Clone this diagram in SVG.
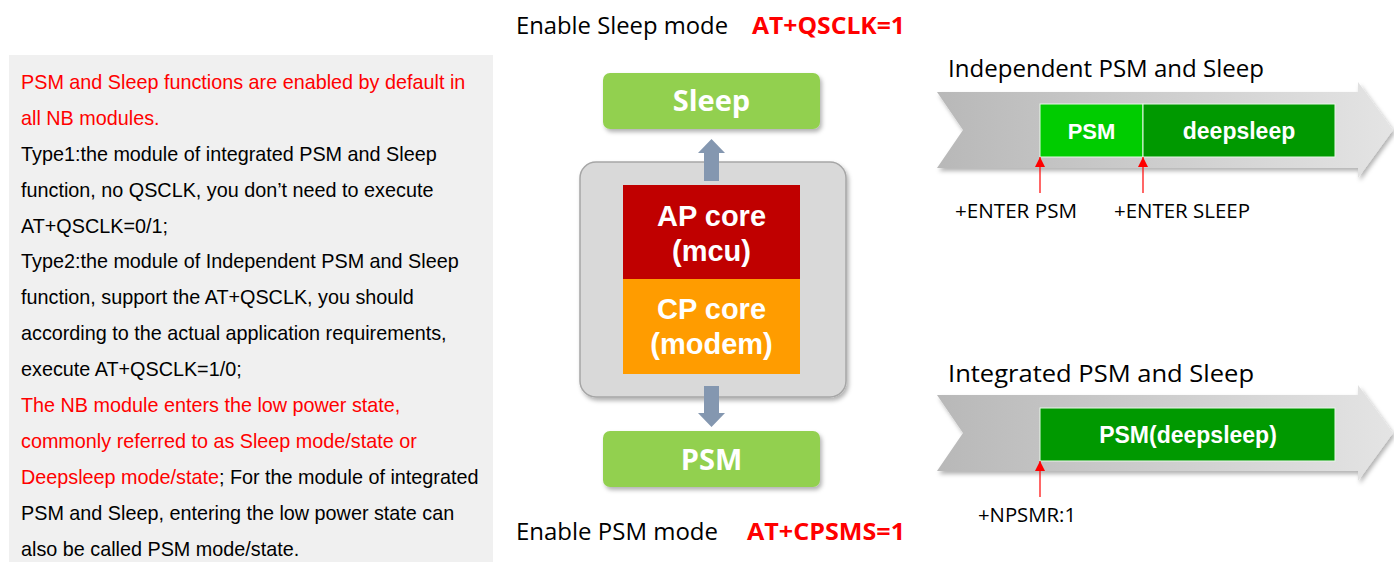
<svg xmlns="http://www.w3.org/2000/svg" width="1394" height="562" viewBox="0 0 1394 562">
<style>
.body{font-family:"Liberation Sans",Arial,sans-serif;font-size:19.8px;fill:#000}
.red{fill:#ff0000}
.seg{font-family:"Open Sans","Noto Sans",sans-serif;font-size:23px;fill:#000}
.cmd{font-family:"Open Sans","Noto Sans",sans-serif;font-size:23px;font-weight:bold;fill:#ff0000}
.gbox{fill:#92d050}
.gtxt{font-family:"Open Sans","Noto Sans",sans-serif;font-size:29px;font-weight:bold;fill:#fff;text-anchor:middle}
.core{font-family:"Liberation Sans",Arial,sans-serif;font-size:29px;font-weight:bold;fill:#fff;text-anchor:middle}
.bar{font-family:"Liberation Sans",Arial,sans-serif;font-size:22px;font-weight:bold;fill:#fff;text-anchor:middle}
.lbl{font-family:"Open Sans","Noto Sans",sans-serif;font-size:20px;fill:#000}
.blue{fill:#8497b0}
.rl{stroke:#ff0000;stroke-width:1.2;fill:none}
</style>
<defs>
<filter id="sh" x="-10%" y="-10%" width="125%" height="130%">
<feDropShadow dx="2" dy="3" stdDeviation="2" flood-color="#000" flood-opacity="0.3"/>
</filter>
<linearGradient id="tl" x1="0" y1="0" x2="1" y2="0">
<stop offset="0" stop-color="#b8b8b8"/>
<stop offset="1" stop-color="#e4e4e4"/>
</linearGradient>
<marker id="ra" viewBox="0 0 10 10" refX="10" refY="5" markerWidth="10" markerHeight="10" markerUnits="userSpaceOnUse" orient="auto">
<path d="M0,0 L10,5 L0,10 Z" fill="#ff0000"/>
</marker>
</defs>
<rect width="1394" height="562" fill="#fff"/>

<g id="notes">
<rect x="9" y="55" width="484" height="507" fill="#f0f0f0"/>
<text class="body red" x="21" y="89">PSM and Sleep functions are enabled by default in</text>
<text class="body red" x="21" y="125">all NB modules.</text>
<text class="body" x="21" y="161">Type1:the module of integrated PSM and Sleep</text>
<text class="body" x="21" y="197">function, no QSCLK, you don’t need to execute</text>
<text class="body" x="21" y="233">AT+QSCLK=0/1;</text>
<text class="body" x="21" y="268">Type2:the module of Independent PSM and Sleep</text>
<text class="body" x="21" y="304">function, support the AT+QSCLK, you should</text>
<text class="body" x="21" y="340">according to the actual application requirements,</text>
<text class="body" x="21" y="376">execute AT+QSCLK=1/0;</text>
<text class="body red" x="21" y="412">The NB module enters the low power state,</text>
<text class="body red" x="21" y="448">commonly referred to as Sleep mode/state or</text>
<text class="body" x="21" y="484"><tspan class="red">Deepsleep mode/state</tspan>; For the module of integrated</text>
<text class="body" x="21" y="520">PSM and Sleep, entering the low power state can</text>
<text class="body" x="21" y="556">also be called PSM mode/state.</text>
</g>

<g id="title-sleep">
<text class="seg" x="516" y="34" textLength="212" lengthAdjust="spacingAndGlyphs">Enable Sleep mode</text>
<text class="cmd" x="752" y="34" textLength="153" lengthAdjust="spacingAndGlyphs">AT+QSCLK=1</text>
</g>

<g id="node-sleep">
<rect class="gbox" x="603" y="73" width="217" height="56" rx="7" filter="url(#sh)"/>
<text class="gtxt" x="711.5" y="111">Sleep</text>
</g>

<g id="node-chip">
<rect x="580" y="162" width="266" height="235" rx="16" fill="#d9d9d9" stroke="#a6a6a6" stroke-width="1.5" filter="url(#sh)"/>
</g>
<g id="node-ap">
<rect x="623" y="185" width="177" height="94" fill="#c00000"/>
<text class="core" x="711.5" y="226">AP core</text>
<text class="core" x="711.5" y="261">(mcu)</text>
</g>
<g id="node-cp">
<rect x="623" y="279" width="177" height="95" fill="#ff9c00"/>
<text class="core" x="711.5" y="319">CP core</text>
<text class="core" x="711.5" y="354">(modem)</text>
</g>

<g id="node-psm">
<rect class="gbox" x="603" y="431" width="217" height="56" rx="7" filter="url(#sh)"/>
<text class="gtxt" x="711.5" y="470">PSM</text>
</g>

<g id="title-psm">
<text class="seg" x="516" y="540" textLength="202" lengthAdjust="spacingAndGlyphs">Enable PSM mode</text>
<text class="cmd" x="747" y="540" textLength="158" lengthAdjust="spacingAndGlyphs">AT+CPSMS=1</text>
</g>

<g id="timeline-independent">
<text class="seg" x="948" y="77" textLength="316" lengthAdjust="spacingAndGlyphs">Independent PSM and Sleep</text>
<path d="M937,92 L1358,92 L1358,82 L1393,130 L1358,178 L1358,168 L937,168 L963,130 Z" fill="url(#tl)" filter="url(#sh)"/>
<rect x="1040" y="104" width="103" height="53" fill="#00cc00" stroke="#e8f8e8" stroke-width="1"/>
<rect x="1143" y="104" width="192" height="53" fill="#009900" stroke="#e8f8e8" stroke-width="1"/>
<text class="bar" x="1091.5" y="139">PSM</text>
<text class="bar" x="1239" y="139" style="font-size:23px">deepsleep</text>
<text class="lbl" x="955" y="218" textLength="122" lengthAdjust="spacingAndGlyphs">+ENTER PSM</text>
<text class="lbl" x="1114" y="218" textLength="136" lengthAdjust="spacingAndGlyphs">+ENTER SLEEP</text>
</g>

<g id="timeline-integrated">
<text class="seg" x="948" y="382" textLength="306" lengthAdjust="spacingAndGlyphs">Integrated PSM and Sleep</text>
<path d="M937,395 L1358,395 L1358,385 L1393,433 L1358,481 L1358,471 L937,471 L963,433 Z" fill="url(#tl)" filter="url(#sh)"/>
<rect x="1040" y="408" width="295" height="53" fill="#009900" stroke="#e8f8e8" stroke-width="1"/>
<text class="bar" x="1188" y="443" style="font-size:23px">PSM(deepsleep)</text>
<text class="lbl" x="978" y="522" textLength="98" lengthAdjust="spacingAndGlyphs">+NPSMR:1</text>
</g>

<g id="connectors">
<path class="blue" d="M704,181 L704,153 L698,153 L711.5,139 L725,153 L719,153 L719,181 Z"/>
<path class="blue" d="M704,386 L704,413 L698,413 L711.5,427 L725,413 L719,413 L719,386 Z"/>
<line class="rl" x1="1040" y1="193" x2="1040" y2="157" marker-end="url(#ra)"/>
<line class="rl" x1="1143" y1="193" x2="1143" y2="157" marker-end="url(#ra)"/>
<line class="rl" x1="1040" y1="497" x2="1040" y2="461" marker-end="url(#ra)"/>
</g>
</svg>
